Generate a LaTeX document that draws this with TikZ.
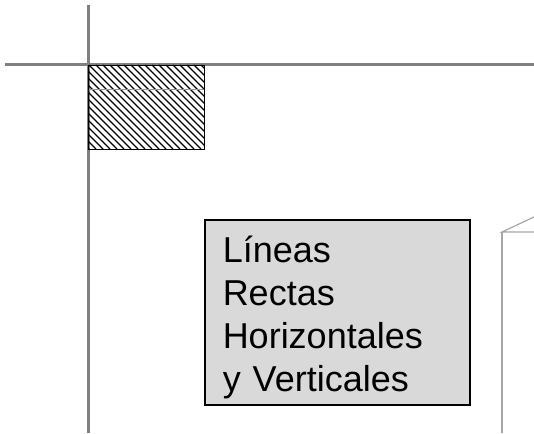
\documentclass[tikz,border=0pt]{standalone}
\usepackage{fontspec}
\setmainfont{Liberation Sans}
\begin{document}
\begin{tikzpicture}[
x=1pt, y=-1pt,
guide/.style={draw=gray, line width=3pt},
thin guide/.style={draw=black!35, line width=1.2pt},
label box/.style={rectangle, draw, line width=1.5pt, fill=black!15,
  anchor=north west, minimum width=265pt, minimum height=185pt,
  inner xsep=18pt, text width=229pt, align=left,
  font=\fontsize{36}{43}\selectfont},
]
  \useasboundingbox (0,0) rectangle (534,433);
  % guide lines
  \draw[guide] (88,5) -- (88,433);
  \draw[guide] (5,65) -- (534,65);
  % hatched corner
  \begin{scope}
    \clip (88,65) rectangle (204,149);
    \foreach \x in {-100,-93,...,210}
      \draw[line width=1.3pt] (\x,65) -- ++(84,84);
  \end{scope}
  \draw[black!40, line width=0.4pt] (88,89) -- (204,89);
  \draw[line width=0.8pt] (88,65) rectangle (204,149);
  % label
  \node[label box] (lineas) at (204,219)
    {\rule{0pt}{36pt}Líneas\\Rectas\\Horizontales\\y Verticales};
  % edge of next sheet
  \coordinate (corner) at (502,232);
  \draw[thin guide] (534,217) -- (corner) -- (534,232);
  \draw[thin guide] (corner) -- (502,433);
\end{tikzpicture}
\end{document}
